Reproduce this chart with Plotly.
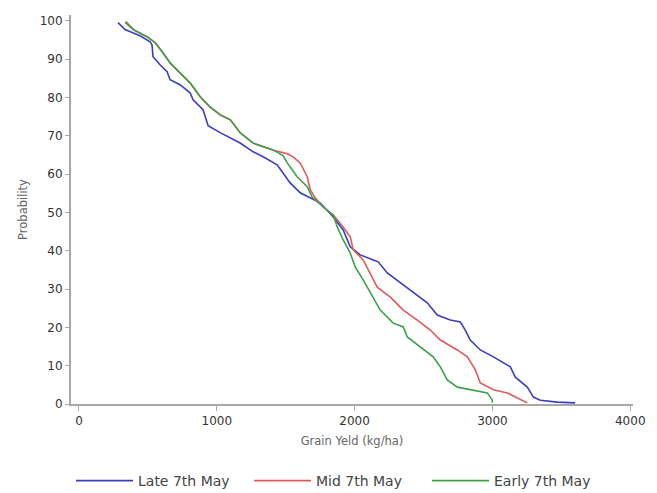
import plotly.graph_objects as go

# Late 7th May (blue)
late_x = [283, 334, 443, 516, 530, 537, 588, 639, 661, 733, 806, 828, 900, 937, 1024, 1169, 1264, 1336,
          1438, 1481, 1532, 1605, 1699, 1750, 1845, 1917, 1968, 2041, 2135, 2171, 2237, 2331, 2426, 2527,
          2600, 2694, 2767, 2803, 2839, 2912, 3007, 3130, 3166, 3253, 3297, 3348, 3471, 3600]
late_y = [99.5, 97.7, 96.1, 94.5, 93.7, 90.6, 88.5, 86.7, 84.6, 83.3, 81.2, 79.4, 76.8, 72.6, 70.8, 68.1, 65.8, 64.5,
          62.4, 60.3, 57.7, 55.1, 53.5, 52.5, 48.8, 45.4, 41.0, 38.9, 37.6, 37.1, 34.2, 31.6, 29.0, 26.4,
          23.2, 21.9, 21.4, 19.3, 16.7, 14.1, 12.3, 9.7, 7.0, 4.4, 1.8, 1.0, 0.5, 0.3]

# Mid 7th May (red)
mid_x = [340, 400, 500, 556, 612, 663, 735, 808, 881, 953, 1026, 1099, 1171, 1266, 1411, 1513,
         1554, 1605, 1656, 1678, 1714, 1772, 1845, 1917, 1968, 1990, 2062, 2113, 2164, 2259, 2353, 2455,
         2549, 2622, 2745, 2818, 2876, 2912, 3007, 3108, 3181, 3253]
mid_y = [99.8, 97.6, 95.7, 94.2, 91.5, 88.9, 86.3, 83.7, 80.1, 77.4, 75.4, 74.1, 70.7, 68.0, 66.2, 65.3,
         64.5, 62.9, 59.3, 55.9, 53.8, 51.4, 49.3, 46.2, 43.6, 40.2, 37.6, 34.2, 30.5, 27.9, 24.5, 21.9,
         19.3, 16.7, 14.1, 12.3, 8.9, 5.5, 3.7, 2.9, 1.6, 0.3]

# Early 7th May (green)
early_x = [334, 392, 494, 552, 610, 661, 733, 806, 879, 951, 1024, 1097, 1169, 1264, 1409, 1480,
           1511, 1583, 1656, 1692, 1772, 1845, 1874, 1917, 1968, 2004, 2062, 2135, 2186, 2280, 2353, 2382,
           2476, 2570, 2622, 2672, 2745, 2861, 2963, 2999, 2999]
early_y = [99.6, 97.7, 95.8, 94.3, 91.6, 89.0, 86.4, 83.8, 80.2, 77.5, 75.5, 74.2, 70.8, 68.1, 66.3, 64.8,
           62.9, 59.3, 56.7, 54.0, 51.4, 49.3, 46.2, 42.8, 39.4, 35.8, 32.4, 27.9, 24.5, 21.1, 20.1, 17.5,
           14.9, 12.3, 9.7, 6.3, 4.4, 3.7, 2.9, 1.0, 0.3]

x_ticks = [0, 1000, 2000, 3000, 4000]
y_ticks = [0, 10, 20, 30, 40, 50, 60, 70, 80, 90, 100]

fig = go.Figure()
fig.add_trace(go.Scatter(x=late_x, y=late_y, mode="lines", name="Late 7th May",
                         line=dict(color="#3a3ec0", width=1.6)))
fig.add_trace(go.Scatter(x=mid_x, y=mid_y, mode="lines", name="Mid 7th May",
                         line=dict(color="#e05a5a", width=1.6)))
fig.add_trace(go.Scatter(x=early_x, y=early_y, mode="lines", name="Early 7th May",
                         line=dict(color="#3f9f4a", width=1.6)))

axis_font = dict(family="DejaVu Sans", size=12, color="#333333")
title_font = dict(family="DejaVu Sans", size=11.5, color="#666666")
fig.update_layout(
    width=657, height=501,
    margin=dict(l=63, r=32, t=7, b=105),
    paper_bgcolor="white", plot_bgcolor="white",
    font=dict(family="DejaVu Sans", size=12, color="#333333"),
    showlegend=True,
    legend=dict(orientation="h", x=0.0, xanchor="left", y=-0.198, yanchor="middle",
                font=dict(family="DejaVu Sans", size=14, color="#444444"),
                itemwidth=57, entrywidth=106, entrywidthmode="pixels", traceorder="normal"),
    xaxis=dict(range=[-58, 4020], tickvals=x_ticks, ticktext=[str(v) for v in x_ticks],
               showgrid=False, zeroline=False, showline=True, linecolor="#a8a8a8", linewidth=2,
               ticks="outside", ticklen=5, tickcolor="#a8a8a8", tickfont=axis_font,
               title=dict(text="Grain Yeld (kg/ha)", font=title_font, standoff=10)),
    yaxis=dict(range=[0, 101.5], tickvals=y_ticks, ticktext=[str(v) for v in y_ticks],
               showgrid=False, zeroline=False, showline=True, linecolor="#a8a8a8", linewidth=2,
               ticks="outside", ticklen=4, tickcolor="#a8a8a8", tickfont=axis_font,
               title=dict(text="Probability", font=title_font, standoff=10)),
)

fig.write_html("out.html")
